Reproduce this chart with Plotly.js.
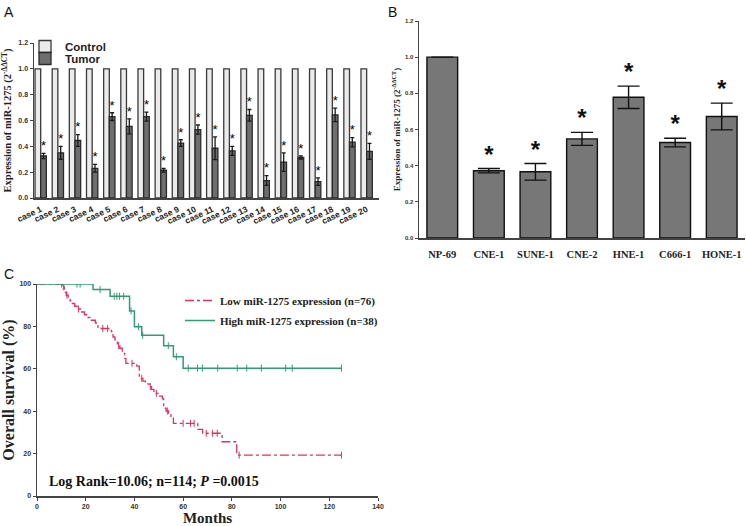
<!DOCTYPE html>
<html>
<head>
<meta charset="utf-8">
<script src="https://cdn.plot.ly/plotly-3.0.1.min.js"></script>
<style>
html,body{margin:0;padding:0;background:#fff;}
#chart{width:746px;height:526px;}
</style>
</head>
<body>
<div id="chart"></div>
<script>
// ---------- Panel A data ----------
const casesA = ['case 1','case 2','case 3','case 4','case 5','case 6','case 7','case 8','case 9','case 10',
  'case 11','case 12','case 13','case 14','case 15','case 16','case 17','case 18','case 19','case 20'];
const controlA = [1,1,1,1,1,1,1,1,1,1,1,1,1,1,1,1,1,1,1,1];
const tumorA = [0.325,0.35,0.445,0.23,0.63,0.555,0.63,0.215,0.425,0.53,0.385,0.365,0.64,0.135,0.278,0.314,0.127,0.644,0.432,0.361];
const tumorErrA = [0.02,0.05,0.045,0.03,0.03,0.058,0.035,0.014,0.026,0.035,0.088,0.035,0.045,0.038,0.072,0.012,0.029,0.052,0.036,0.062];
const sigA = ['*','*','*','*','*','*','*','*','*','*','*','*','*','*','*','*','*','*','*','*'];

// ---------- Panel B data ----------
const cellLines = ['NP-69','CNE-1','SUNE-1','CNE-2','HNE-1','C666-1','HONE-1'];
const cellVals = [1.0,0.372,0.366,0.548,0.778,0.528,0.672];
const cellErr = [0,0.012,0.046,0.036,0.062,0.024,0.074];
const sigB = [' ','*','*','*','*','*','*'];

// ---------- Panel C data (Kaplan-Meier steps) ----------
const lowT = [0,10.5,11.2,12,12.8,13.6,14.5,15.5,16.5,18,19.5,21,22,24,25,30.5,31.2,32,33,34,
  35,36,36.5,41,42,43.5,44.5,46,47,48,50,51.5,52,53,54,55,56,66,68,76,82,125];
const lowS = [100,98.7,96.1,94.7,93.4,92.1,90.8,89.5,88.2,86.8,85.5,84.2,82.9,81.6,79.0,77.6,75.0,73.6,71.0,69.7,
  67.3,64.9,62.6,61.3,55.5,54.2,52.9,51.6,50.3,48.4,47.1,45.8,41.4,40.1,39.0,36.7,34.3,31.4,29.6,25.6,19.3,19.3];
const lowCens = [10.8,12.3,17,27,29,33.5,39,43,46.5,49,53.5,60,63,64.5,69.5,72,74,83,125];
const highT = [0,23,30,38,40,43,52,56,60,125];
const highS = [100,97.4,94.2,87.3,79.8,75.8,70.9,65.7,60.3,60.3];
const highCens = [10.1,11,16.4,17.7,25.9,31.7,32.8,33.9,35.6,38.6,41.7,43.4,53.9,57.2,62.1,65.9,67.9,74.2,82.2,86.1,92.1,102.1,104.8,125];
const lowLabel = 'Low miR-1275 expression (n=76)';
const highLabel = 'High miR-1275 expression (n=38)';
const statText = 'Log Rank=10.06; n=114; <i>P</i> =0.0015';

// step-function lookup for censor marks
function survAt(T, S, t){ let v = S[0]; for(let i=0;i<T.length;i++){ if(T[i]<=t) v=S[i]; } return v; }

const SANS = 'Liberation Sans, Arial, sans-serif';
const SERIF = 'Liberation Serif, Times New Roman, serif';
const RED = '#e2325a';
const GREEN = '#2f9c72';

const idxA = casesA.map((c,i)=>i);
const bargap = 0.34;
const half = (1-bargap)/4;

const traces = [
  {type:'bar', x: idxA, y: controlA, name:'Control', offsetgroup:'c', xaxis:'x', yaxis:'y',
   marker:{color:'#ebebeb', line:{color:'#3a3a3a', width:1.3}}, legend:'legend', showlegend:true},
  {type:'bar', x: idxA, y: tumorA, name:'Tumor', offsetgroup:'t', xaxis:'x', yaxis:'y',
   marker:{color:'#6e6e6e', line:{color:'#2a2a2a', width:1.3}},
   error_y:{type:'data', array: tumorErrA, visible:true, color:'#1a1a1a', thickness:1.3, width:2},
   legend:'legend2', showlegend:true},
  {type:'scatter', mode:'text', x: idxA.map(i=>i+half), y: tumorA.map((v,i)=>v+tumorErrA[i]),
   text: sigA, textposition:'top center', textfont:{family:SANS, size:13, color:'#000'},
   xaxis:'x', yaxis:'y', showlegend:false, hoverinfo:'skip', cliponaxis:false},

  {type:'bar', x: cellLines, y: cellVals, name:'cells', xaxis:'x2', yaxis:'y2', showlegend:false,
   marker:{color:'#777777', line:{color:'#111', width:1.4}},
   error_y:{type:'data', array: cellErr, visible:true, color:'#111', thickness:1.4, width:11}},
  {type:'scatter', mode:'text', x: cellLines, y: cellVals.map((v,i)=>v+cellErr[i]),
   text: sigB, textposition:'top center', textfont:{family:SANS, size:24, color:'#111', weight:'bold'},
   xaxis:'x2', yaxis:'y2', showlegend:false, hoverinfo:'skip', cliponaxis:false},

  {type:'scatter', mode:'lines', x: lowT, y: lowS, line:{shape:'hv', color:RED, width:1.3, dash:'dashdot'},
   xaxis:'x3', yaxis:'y3', name: lowLabel, legend:'legend3', showlegend:true, legendgroup:'low'},
  {type:'scatter', mode:'markers', x: lowCens, y: lowCens.map(t=>survAt(lowT, lowS, t)),
   marker:{symbol:'line-ns', size:5, line:{color:RED, width:1}}, xaxis:'x3', yaxis:'y3', showlegend:false, legendgroup:'low'},
  {type:'scatter', mode:'lines', x: highT, y: highS, line:{shape:'hv', color:GREEN, width:1.5},
   xaxis:'x3', yaxis:'y3', name: highLabel, legend:'legend4', showlegend:true, legendgroup:'high'},
  {type:'scatter', mode:'markers', x: highCens, y: highCens.map(t=>survAt(highT, highS, t)),
   marker:{symbol:'line-ns', size:5, line:{color:GREEN, width:1}}, xaxis:'x3', yaxis:'y3', showlegend:false, legendgroup:'high'}
];

const W = 746, H = 526;
const px = v => v/W, py = v => 1 - v/H;

const axLine = {showline:true, linecolor:'#444', linewidth:1.5, showgrid:false, zeroline:false, mirror:false};

const layout = {
  width:W, height:H, autosize:false,
  margin:{l:0,r:0,t:0,b:0},
  paper_bgcolor:'#fff', plot_bgcolor:'rgba(0,0,0,0)',
  barmode:'group', bargap: bargap, bargroupgap:0,
  showlegend:true,
  xaxis: Object.assign({}, axLine, {domain:[px(34), px(379)], anchor:'y', range:[-0.39,19.72],
    tickvals: idxA, ticktext: casesA, ticks:'', tickangle:-25, ticklabelstandoff:2,
    tickfont:{family:SANS, size:8.5, color:'#222', weight:'bold'}}),
  yaxis: Object.assign({}, axLine, {domain:[py(198), py(43)], anchor:'x', range:[0,1.2], dtick:0.2, tickformat:'.1f',
    ticks:'outside', ticklen:3, tickwidth:1, tickcolor:'#444',
    tickfont:{family:SANS, size:7, color:'#333', weight:'bold'},
    title:{text:'Expression of miR-1275 (2<sup>-ΔΔCT</sup>)', standoff:8,
      font:{family:SERIF, size:10.5, color:'#222', weight:'bold'}}}),

  xaxis2: Object.assign({}, axLine, {domain:[px(419), px(745)], anchor:'y2', ticks:'', ticklabelstandoff:6,
    tickfont:{family:SERIF, size:10.5, color:'#222', weight:'bold'}}),
  yaxis2: Object.assign({}, axLine, {domain:[py(238), py(21)], anchor:'x2', range:[0,1.2], dtick:0.2, tickformat:'.1f',
    ticks:'outside', ticklen:3, tickwidth:1, tickcolor:'#444',
    tickfont:{family:SANS, size:6, color:'#333', weight:'bold'},
    title:{text:'Expression of miR-1275 (2<sup>-ΔΔCT</sup>)', standoff:3,
      font:{family:SERIF, size:9, color:'#222', weight:'bold'}}}),

  xaxis3: Object.assign({}, axLine, {domain:[px(37), px(378)], anchor:'y3', range:[0,140], dtick:20,
    ticks:'outside', ticklen:3, tickwidth:1, tickcolor:'#444',
    tickfont:{family:SANS, size:7, color:'#333', weight:'bold'},
    title:{text:'Months', standoff:6, font:{family:SERIF, size:15, color:'#222', weight:'bold'}}}),
  yaxis3: Object.assign({}, axLine, {domain:[py(496), py(284)], anchor:'x3', range:[0,100], dtick:20,
    ticks:'outside', ticklen:3, tickwidth:1, tickcolor:'#444',
    tickfont:{family:SANS, size:7, color:'#333', weight:'bold'},
    title:{text:'Overall survival (%)', standoff:6, font:{family:SERIF, size:16, color:'#222', weight:'bold'}}}),

  legend:{x:px(25), y:py(32), xanchor:'left', yanchor:'top', bgcolor:'rgba(0,0,0,0)',
    font:{family:SANS, size:11.5, color:'#222', weight:'bold'}, itemwidth:30, tracegroupgap:0},
  legend2:{x:px(25), y:py(44), xanchor:'left', yanchor:'top', bgcolor:'rgba(0,0,0,0)',
    font:{family:SANS, size:11.5, color:'#222', weight:'bold'}, itemwidth:30},
  legend3:{x:px(180), y:py(286), xanchor:'left', yanchor:'top', bgcolor:'rgba(0,0,0,0)',
    font:{family:SERIF, size:11, color:'#222', weight:'bold'}, itemwidth:30},
  legend4:{x:px(180), y:py(306), xanchor:'left', yanchor:'top', bgcolor:'rgba(0,0,0,0)',
    font:{family:SERIF, size:11, color:'#222', weight:'bold'}, itemwidth:30},

  annotations:[
    {text:'A', xref:'paper', yref:'paper', x:px(2), y:py(2), xanchor:'left', yanchor:'top', showarrow:false,
     font:{family:SANS, size:14, color:'#111'}},
    {text:'B', xref:'paper', yref:'paper', x:px(386), y:py(2), xanchor:'left', yanchor:'top', showarrow:false,
     font:{family:SANS, size:14, color:'#111'}},
    {text:'C', xref:'paper', yref:'paper', x:px(2), y:py(264), xanchor:'left', yanchor:'top', showarrow:false,
     font:{family:SANS, size:14, color:'#111'}},
    {text: statText, xref:'x3', yref:'y3', x:4, y:7, xanchor:'left', yanchor:'middle', showarrow:false,
     font:{family:SERIF, size:14, color:'#111', weight:'bold'}}
  ]
};

Plotly.newPlot('chart', traces, layout, {staticPlot:true, displayModeBar:false});
</script>
</body>
</html>
